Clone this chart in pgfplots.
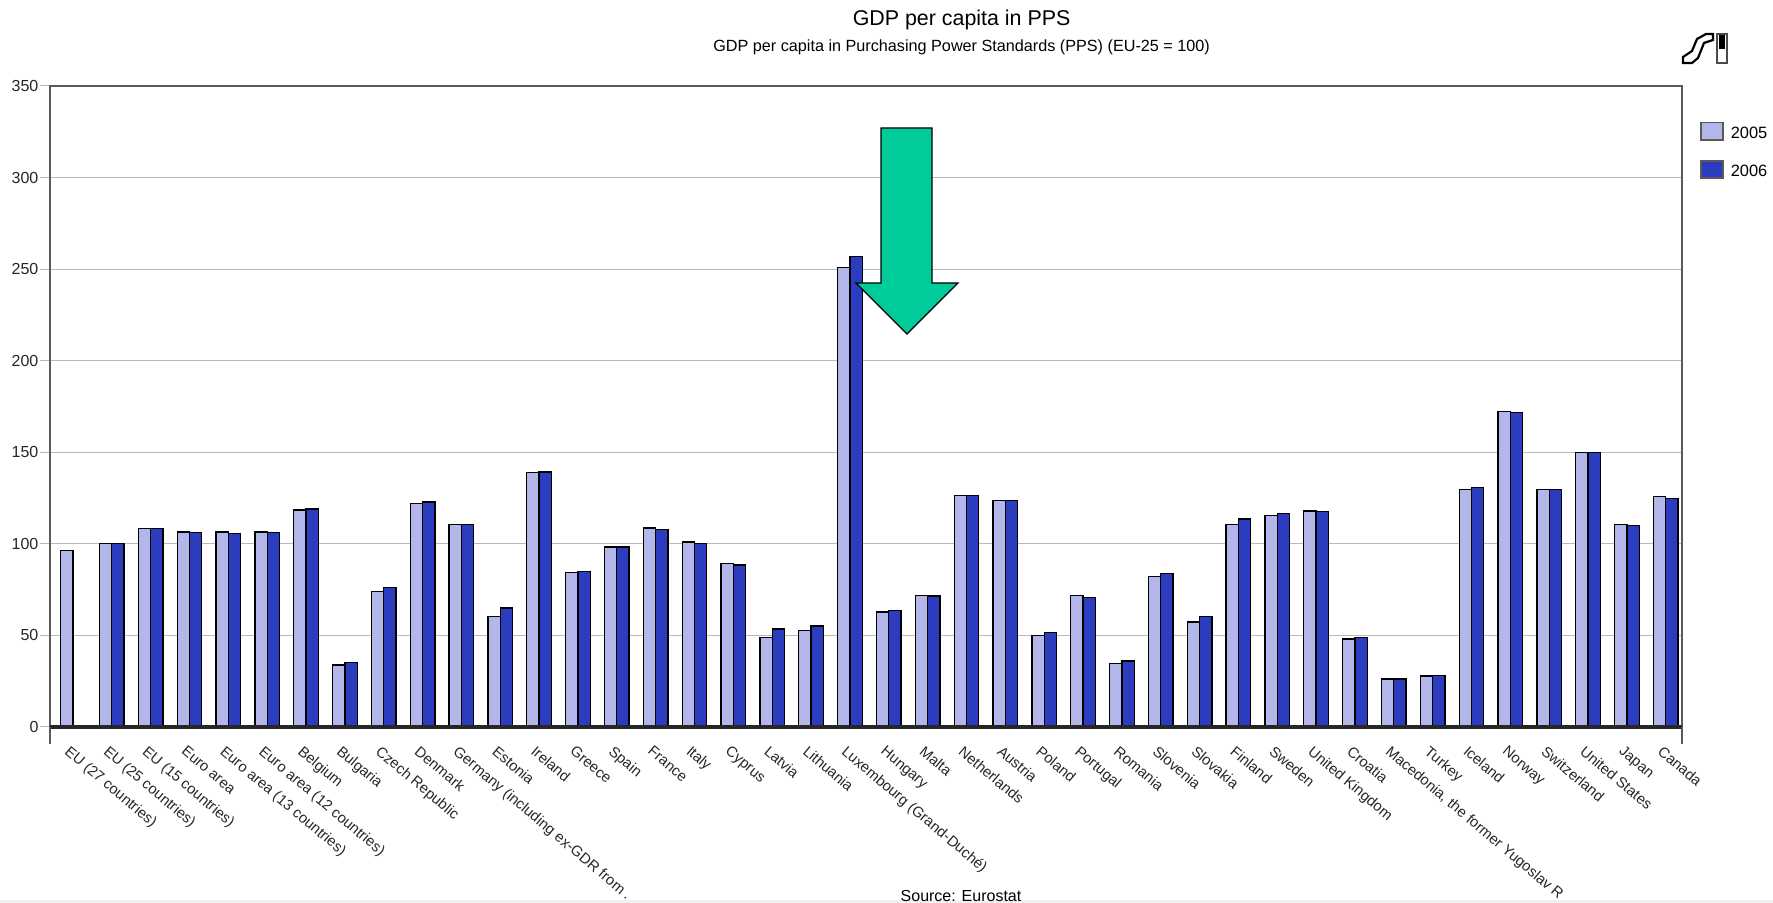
\documentclass[border=0pt]{standalone}
\usepackage{pgfplots}
\usepackage{pgfplotstable}
\pgfplotsset{compat=1.18}
\usepackage{fontspec}
\setmainfont{Liberation Sans}
\definecolor{lightb}{HTML}{B2B6E8}
\definecolor{darkb}{HTML}{2C3CBE}
\definecolor{axisg}{HTML}{5A5A5A}
\definecolor{gridg}{HTML}{B8B8B8}
\definecolor{arrowg}{HTML}{00CC99}
\definecolor{bandc}{HTML}{F1F1E9}
\pgfplotstableread{
i a b
0 96.2 0
1 100 100
2 108.5 108.5
3 106.5 106.2
4 106.5 105.8
5 106.5 106.2
6 118.4 119
7 33.9 35.3
8 73.8 76.3
9 122 122.8
10 110.4 110.6
11 60.3 65
12 139 139.3
13 84.5 85
14 98.2 98.2
15 108.6 107.7
16 101 100.2
17 89.3 88.5
18 48.8 53.5
19 52.5 55.2
20 251 256.8
21 62.8 63.7
22 71.8 71.6
23 126.4 126.4
24 123.7 123.7
25 50 51.6
26 71.8 70.7
27 34.6 36
28 82.1 83.8
29 57.4 60.3
30 110.7 113.5
31 115.3 116.4
32 118 117.7
33 48 49
34 26.2 26.2
35 27.9 28
36 129.5 130.6
37 172.2 171.6
38 129.5 129.5
39 150 150
40 110.4 110
41 125.7 124.6
}\gdpdata
\begin{document}
\begin{tikzpicture}[x=1pt,y=1pt]
\useasboundingbox (0,0) rectangle (886.5,451.5);
\fill[bandc] (0,0) rectangle (886.5,1.5);
\begin{axis}[
  at={(25pt,88pt)}, anchor=south west,
  scale only axis, width=815.85pt, height=320.5pt,
  ybar=0pt, bar width=6.15pt,
  xmin=-0.59, xmax=41.41, ymin=0, ymax=350,
  ytick={0,50,...,350},
  xtick=data,
  xticklabels={EU (27 countries),EU (25 countries),EU (15 countries),Euro area,Euro area (13 countries),Euro area (12 countries),Belgium,Bulgaria,Czech Republic,Denmark,Germany (including ex-GDR from .,Estonia,Ireland,Greece,Spain,France,Italy,Cyprus,Latvia,Lithuania,Luxembourg (Grand-Duché),Hungary,Malta,Netherlands,Austria,Poland,Portugal,Romania,Slovenia,Slovakia,Finland,Sweden,United Kingdom,Croatia,{Macedonia, the former Yugoslav R},Turkey,Iceland,Norway,Switzerland,United States,Japan,Canada},
  x tick label style={font=\fontsize{7.4}{8}\selectfont, rotate=-40.2, anchor=north west, xshift=-1.7pt, yshift=-0.2pt, text=black!85},
  y tick label style={font=\fontsize{8}{9}\selectfont, text=black!85, inner xsep=0.6pt},
  /pgf/number format/assume math mode=true,
  xtick style={draw=none},
  ytick style={draw=gridg, line width=0.5pt},
  major tick length=5pt,
  tick align=outside,
  ytick pos=left, xtick pos=bottom,
  ymajorgrids, grid style={gridg, line width=0.6pt},
  axis line style={axisg, line width=1pt},
  clip=false,
  legend image code/.code={\draw[draw=axisg,line width=0.8pt,#1] (0pt,-2.9pt) rectangle (11.2pt,5.7pt); \path[draw=none,fill=none] (0pt,0pt) -- (13pt,0pt);},
  legend style={draw=none, fill=none, at={(1.0112,0.9441)}, anchor=north west,
    font=\fontsize{8.2}{9}\selectfont, inner sep=0pt, outer sep=0pt,
    row sep=7.4pt, /tikz/every even column/.append style={column sep=0pt}},
  legend cell align=left,
]
\addplot[draw=black, line width=0.65pt, fill=lightb] table[x=i,y=a] {\gdpdata};
\addplot[draw=black, line width=0.65pt, fill=darkb] table[x=i,y=b] {\gdpdata};
\legend{2005,2006}
\draw[black!85, line width=1.7pt] (axis cs:-0.59,0) -- (axis cs:41.41,0);
\draw[axisg, line width=1pt] (axis cs:-0.59,0) -- (axis cs:-0.59,-9.3);
\draw[axisg, line width=1pt] (axis cs:41.41,0) -- (axis cs:41.41,-9.3);
\end{axis}
% annotation arrow
\draw[black, line width=0.6pt, fill=arrowg]
  (440.5,387.5) -- (466,387.5) -- (466,310) -- (479,310) -- (453.5,284.5) -- (428,310) -- (440.5,310) -- cycle;
% titles
\node[anchor=center, font=\fontsize{10.7}{12}\selectfont] at (480.8,441.4) {GDP per capita in PPS};
\node[anchor=center, font=\fontsize{8.1}{9}\selectfont] at (480.8,427.7) {GDP per capita in Purchasing Power Standards (PPS) (EU-25 = 100)};
\node[anchor=center, font=\fontsize{8}{9}\selectfont] at (480.5,3.5) {Source: Eurostat};
% logo
\draw[black, line width=1.1pt, fill=white]
  (841.5,420) -- (841.5,423) -- (846,426) -- (848.5,432) -- (853,434.5) -- (856.5,434.5) -- (856.5,431.5) -- (852,430) -- (849,422.5) -- (846,420) -- cycle;
\draw[black!70, line width=1pt, fill=white] (858.5,420) rectangle (863.5,434.5);
\fill[black] (859.5,427) rectangle (862.5,434);
\end{tikzpicture}
\end{document}
